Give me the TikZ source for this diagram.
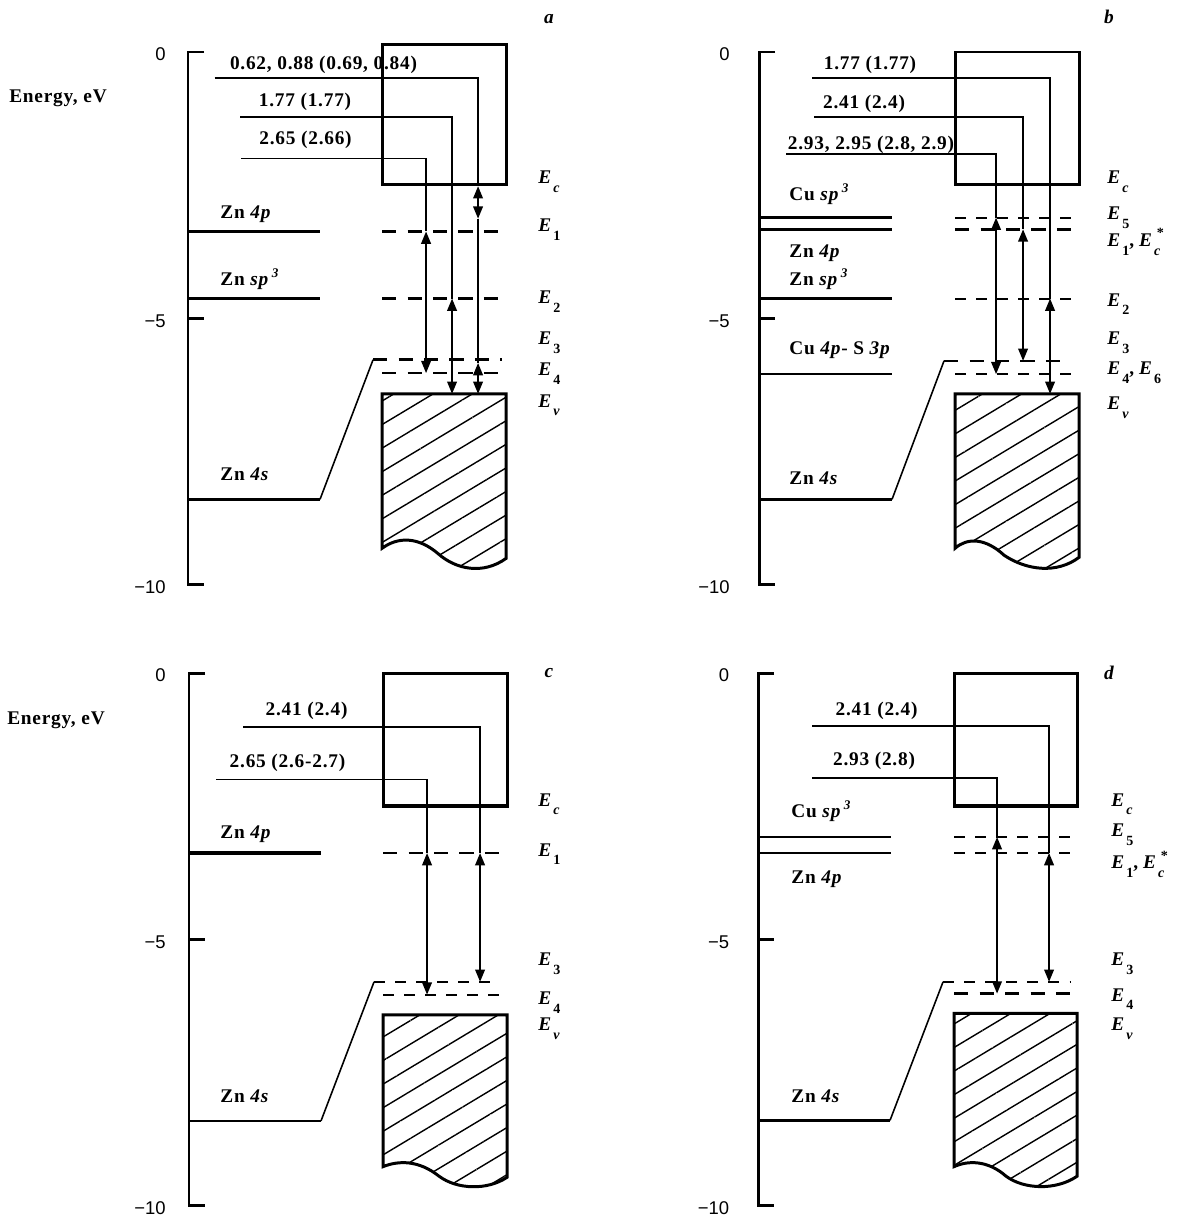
\documentclass[tikz,border=0pt]{standalone}
\usepackage{fontspec}
\setmainfont{Liberation Serif}
\newfontfamily\lblfont{Liberation Serif}[LetterSpace=4]
\newfontfamily\numfont{Liberation Sans}
\usetikzlibrary{arrows.meta,patterns.meta}

\newcommand{\En}[1]{\textit{E}\kern1.2pt\raisebox{-5pt}{\fontsize{8}{8}\selectfont #1}}
\newcommand{\Ecst}{\textit{E}\kern1.2pt\raisebox{-5pt}{\fontsize{8}{8}\selectfont\textit{c}}\kern-2pt\raisebox{5pt}{\fontsize{8}{8}\selectfont *}}
\newcommand{\spthree}{\textit{sp}\kern1.5pt\raisebox{4.5pt}{\fontsize{7.5}{8}\selectfont\textit{3}}}

\begin{document}
\begin{tikzpicture}[
  inner sep=0pt,
  axis/.style={line width=1.7pt},
  band/.style={line width=1.7pt},
  orb/.style={line width=1.6pt},
  deep/.style={line width=1.5pt},
  slant/.style={line width=0.9pt},
  trap/.style={line width=1.5pt,dash pattern=on 8pt off 6.5pt},
  trapthin/.style={line width=1.1pt,dash pattern=on 6pt off 6pt},
  lead/.style={line width=1pt},
  trans/.style={line width=1pt,{Triangle[length=7pt,width=5.5pt]}-{Triangle[length=7pt,width=5.5pt]}},
  vband/.style={line width=1.7pt,pattern={Lines[angle=31,distance=11.5pt,line width=0.8pt]}},
  tick_lab/.style={anchor=east,font=\numfont\fontsize{10.5}{12}\selectfont},
  val_lab/.style={anchor=base,font=\lblfont\bfseries\fontsize{11}{13}\selectfont},
  orb_lab/.style={anchor=base west,font=\lblfont\bfseries\fontsize{11}{13}\selectfont},
  lvl_lab/.style={anchor=base west,font=\bfseries\fontsize{11}{13}\selectfont},
  panel_lab/.style={font=\bfseries\itshape\fontsize{11}{13}\selectfont},
  axis_lab/.style={font=\lblfont\bfseries\fontsize{11}{13}\selectfont},
]
\useasboundingbox (0,0) rectangle (23.52,-24.4);

%% ===== Panel labels ==========================================================
\node[panel_lab] (pa) at (10.98,-0.38) {a};
\node[panel_lab] (pb) at (22.18,-0.34) {b};
\node[panel_lab] (pc) at (10.98,-13.46) {c};
\node[panel_lab] (pd) at (22.18,-13.46) {d};
\node[axis_lab] (ya) at (1.16,-1.96) {Energy, eV};
\node[axis_lab] (yc) at (1.12,-14.40) {Energy, eV};

%% ===== Panel a ===============================================================
\begin{scope}[shift={(3.76cm,-1.04cm)},x=0.02cm,y=1.065cm]
\draw[axis] (16,0) -- (0,0) -- (0,-10) -- (16,-10);
\draw[axis] (0,-5) -- (16,-5);
\node[tick_lab] (a0) at (-22,-0.04) {0};
\node[tick_lab] (a5) at (-22,-5.05) {−5};
\node[tick_lab] (a10) at (-22,-10.05) {−10};
% transitions
\draw[lead] (26.5,-0.49) -| (290,-2.52);
\draw[lead] (52,-1.22) -| (264,-4.63);
\draw[lead] (53,-2.0) -| (238,-3.37);
\draw[lead] (290,-3.13) -- (290,-5.84);
\draw[trans] (290,-2.52) -- (290,-3.13);
\draw[trans] (290,-5.84) -- (290,-6.42);
\draw[trans] (264,-4.63) -- (264,-6.42);
\draw[trans] (238,-3.37) -- (238,-6.03);
% bands and levels
\draw[band] (194,0.15) rectangle (318,-2.49);
\draw[orb] (0,-3.37) -- (132,-3.37);
\draw[orb] (0,-4.63) -- (132,-4.63);
\draw[deep] (0,-8.40) -- (132,-8.40);
\draw[slant] (132,-8.40) -- (185,-5.78);
\draw[trap] (194,-3.37) -- (314,-3.37);
\draw[trap] (194,-4.63) -- (314,-4.63);
\draw[trap] (185,-5.78) -- (314,-5.78);
\draw[trap] (194,-6.03) -- (314,-6.03);
\draw[vband] (194,-6.42) -- (318,-6.42) -- (318,-9.51)
  .. controls (295,-9.82) and (268,-9.72) .. (250,-9.42)
  .. controls (230,-9.10) and (210,-9.10) .. (194,-9.32) -- cycle;
% texts
\node[val_lab] (a_t1) at (135.5,-0.33) {0.62, 0.88 (0.69, 0.84)};
\node[val_lab] (a_t2) at (117,-1.02) {1.77 (1.77)};
\node[val_lab] (a_t3) at (117.5,-1.74) {2.65 (2.66)};
\node[orb_lab] (a_4p) at (32,-3.13) {Zn \textit{4p}};
\node[orb_lab] (a_sp) at (32,-4.39) {Zn \spthree};
\node[orb_lab] (a_4s) at (32,-8.05) {Zn \textit{4s}};
\node[lvl_lab] (a_ec) at (350,-2.47) {\En{\textit{c}}};
\node[lvl_lab] (a_e1) at (350,-3.38) {\En{1}};
\node[lvl_lab] (a_e2) at (350,-4.73) {\En{2}};
\node[lvl_lab] (a_e3) at (350,-5.49) {\En{3}};
\node[lvl_lab] (a_e4) at (350,-6.07) {\En{4}};
\node[lvl_lab] (a_ev) at (350,-6.67) {\En{\textit{v}}};
\end{scope}

%% ===== Panel b ===============================================================
\begin{scope}[shift={(15.18cm,-1.04cm)},x=0.02cm,y=1.065cm]
\draw[axis] (16,0) -- (0,0) -- (0,-10) -- (16,-10);
\draw[axis] (0,-5) -- (16,-5);
\node[tick_lab] (b0) at (-29,-0.04) {0};
\node[tick_lab] (b5) at (-29,-5.05) {−5};
\node[tick_lab] (b10) at (-29,-10.05) {−10};
% transitions
\draw[lead] (53,-0.49) -| (291,-4.63);
\draw[lead] (55,-1.22) -| (264,-3.33);
\draw[lead] (27,-1.92) -| (237,-3.11);
\draw[trans] (291,-4.63) -- (291,-6.42);
\draw[trans] (264,-3.33) -- (264,-5.80);
\draw[trans] (237,-3.11) -- (237,-6.05);
% bands and levels
\node[val_lab] (b_t3) at (112,-1.83) {2.93, 2.95 (2.8, 2.9)};
\draw[band] (196,0) rectangle (320,-2.49);
\draw[orb] (0,-3.11) -- (133,-3.11);
\draw[orb] (0,-3.33) -- (133,-3.33);
\draw[orb] (0,-4.63) -- (133,-4.63);
\draw[deep] (0,-6.05) -- (133,-6.05);
\draw[deep] (0,-8.40) -- (133,-8.40);
\draw[slant] (133,-8.40) -- (185,-5.80);
\draw[trapthin] (196,-3.11) -- (318,-3.11);
\draw[trap] (196,-3.33) -- (318,-3.33);
\draw[trapthin] (196,-4.63) -- (318,-4.63);
\draw[trap] (185,-5.80) -- (311,-5.80);
\draw[trapthin] (196,-6.05) -- (318,-6.05);
\draw[vband] (196,-6.42) -- (320,-6.42) -- (320,-9.49)
  .. controls (298,-9.80) and (268,-9.74) .. (245,-9.45)
  .. controls (226,-9.12) and (208,-9.12) .. (196,-9.32) -- cycle;
% texts
\node[val_lab] (b_t1) at (111,-0.33) {1.77 (1.77)};
\node[val_lab] (b_t2) at (105,-1.06) {2.41 (2.4)};
\node[orb_lab] (b_cu) at (30,-2.79) {Cu \spthree};
\node[orb_lab] (b_4p) at (30,-3.86) {Zn \textit{4p}};
\node[orb_lab] (b_sp) at (30,-4.39) {Zn \spthree};
\node[orb_lab] (b_cs) at (30,-5.69) {Cu \textit{4p}- S \textit{3p}};
\node[orb_lab] (b_4s) at (30,-8.12) {Zn \textit{4s}};
\node[lvl_lab] (b_ec) at (348,-2.47) {\En{\textit{c}}};
\node[lvl_lab] (b_e5) at (348,-3.15) {\En{5}};
\node[lvl_lab] (b_e1) at (348,-3.65) {\En{1}, \Ecst};
\node[lvl_lab] (b_e2) at (348,-4.77) {\En{2}};
\node[lvl_lab] (b_e3) at (348,-5.50) {\En{3}};
\node[lvl_lab] (b_e4) at (348,-6.06) {\En{4}, \En{6}};
\node[lvl_lab] (b_ev) at (348,-6.72) {\En{\textit{v}}};
\end{scope}

%% ===== Panel c ===============================================================
\begin{scope}[shift={(3.78cm,-13.46cm)},x=0.02cm,y=1.065cm]
\draw[axis] (16,0) -- (0,0) -- (0,-10) -- (16,-10);
\draw[axis] (0,-5) -- (16,-5);
\node[tick_lab] (c0) at (-23,-0.04) {0};
\node[tick_lab] (c5) at (-23,-5.05) {−5};
\node[tick_lab] (c10) at (-23,-10.05) {−10};
% transitions
\draw[lead] (54,-1.01) -| (291,-3.38);
\draw[lead] (27,-2.0) -| (238,-3.38);
\draw[trans] (291,-3.38) -- (291,-5.80);
\draw[trans] (238,-3.38) -- (238,-6.04);
% bands and levels
\draw[band] (194,0) rectangle (318,-2.5);
\draw[line width=2.6pt] (194,-2.5) -- (318,-2.5);
\draw[line width=2pt] (0,-3.38) -- (132,-3.38);
\draw[deep] (0,-8.41) -- (132,-8.41);
\draw[slant] (132,-8.41) -- (185,-5.80);
\draw[trap] (194,-3.38) -- (318,-3.38);
\draw[trapthin] (185,-5.80) -- (310,-5.80);
\draw[trapthin] (194,-6.04) -- (318,-6.04);
\draw[vband] (194,-6.42) -- (318,-6.42) -- (318,-9.47)
  .. controls (298,-9.72) and (268,-9.70) .. (250,-9.45)
  .. controls (230,-9.15) and (210,-9.15) .. (194,-9.27) -- cycle;
% texts
\node[val_lab] (c_t1) at (117.5,-0.80) {2.41 (2.4)};
\node[val_lab] (c_t2) at (98.5,-1.77) {2.65 (2.6-2.7)};
\node[orb_lab] (c_4p) at (31,-3.10) {Zn \textit{4p}};
\node[orb_lab] (c_4s) at (31,-8.07) {Zn \textit{4s}};
\node[lvl_lab] (c_ec) at (349,-2.50) {\En{\textit{c}}};
\node[lvl_lab] (c_e1) at (349,-3.44) {\En{1}};
\node[lvl_lab] (c_e3) at (349,-5.50) {\En{3}};
\node[lvl_lab] (c_e4) at (349,-6.22) {\En{4}};
\node[lvl_lab] (c_ev) at (349,-6.72) {\En{\textit{v}}};
\end{scope}

%% ===== Panel d ===============================================================
\begin{scope}[shift={(15.16cm,-13.46cm)},x=0.02cm,y=1.065cm]
\draw[axis] (16,0) -- (0,0) -- (0,-10) -- (16,-10);
\draw[axis] (0,-5) -- (16,-5);
\node[tick_lab] (d0) at (-28.5,-0.04) {0};
\node[tick_lab] (d5) at (-28.5,-5.05) {−5};
\node[tick_lab] (d10) at (-28.5,-10.05) {−10};
% transitions
\draw[lead] (54,-0.99) -| (291,-3.38);
\draw[lead] (54,-1.97) -| (239,-3.08);
\draw[trans] (291,-3.38) -- (291,-5.80);
\draw[trans] (239,-3.08) -- (239,-6.02);
% bands and levels
\draw[band] (196,0) rectangle (319,-2.5);
\draw[line width=2.6pt] (196,-2.5) -- (319,-2.5);
\draw[orb] (0,-3.08) -- (133,-3.08);
\draw[orb] (0,-3.38) -- (133,-3.38);
\draw[deep] (0,-8.40) -- (132,-8.40);
\draw[slant] (132,-8.40) -- (185,-5.80);
\draw[trapthin] (196,-3.08) -- (319,-3.08);
\draw[trapthin] (196,-3.38) -- (319,-3.38);
\draw[trapthin] (185,-5.80) -- (312,-5.80);
\draw[trap] (196,-6.02) -- (319,-6.02);
\draw[vband] (196,-6.39) -- (319,-6.39) -- (319,-9.45)
  .. controls (298,-9.72) and (266,-9.70) .. (248,-9.45)
  .. controls (230,-9.15) and (210,-9.15) .. (196,-9.27) -- cycle;
% texts
\node[val_lab] (d_t1) at (118.5,-0.80) {2.41 (2.4)};
\node[val_lab] (d_t2) at (116,-1.73) {2.93 (2.8)};
\node[orb_lab] (d_cu) at (33,-2.72) {Cu \spthree};
\node[orb_lab] (d_4p) at (33,-3.95) {Zn \textit{4p}};
\node[orb_lab] (d_4s) at (33,-8.07) {Zn \textit{4s}};
\node[lvl_lab] (d_ec) at (353,-2.50) {\En{\textit{c}}};
\node[lvl_lab] (d_e5) at (353,-3.07) {\En{5}};
\node[lvl_lab] (d_e1) at (353,-3.68) {\En{1}, \Ecst};
\node[lvl_lab] (d_e3) at (353,-5.50) {\En{3}};
\node[lvl_lab] (d_e4) at (353,-6.16) {\En{4}};
\node[lvl_lab] (d_ev) at (353,-6.72) {\En{\textit{v}}};
\end{scope}

\end{tikzpicture}
\end{document}
